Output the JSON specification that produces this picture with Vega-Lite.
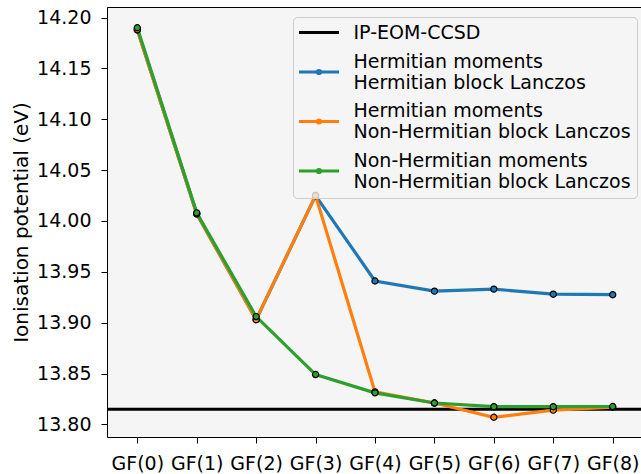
{
  "$schema": "https://vega.github.io/schema/vega-lite/v6.json",
  "autosize": {"type": "none"},
  "padding": {"left": 107, "top": 7, "right": 0, "bottom": 37},
  "width": 536,
  "height": 430,
  "background": "white",
  "config": {
    "font": "DejaVu Sans",
    "view": {"stroke": "black", "strokeWidth": 1, "fill": "#f5f5f5"},
    "axis": {
      "grid": false,
      "domain": false,
      "tickColor": "black",
      "tickSize": 6,
      "tickWidth": 1,
      "labelColor": "black",
      "labelFont": "DejaVu Sans",
      "labelFontSize": 19,
      "titleFont": "DejaVu Sans",
      "titleFontSize": 20,
      "titleFontWeight": "normal",
      "titleColor": "black"
    }
  },
  "datasets": {
    "ip": [
      {"x": 0, "series": "Hermitian moments|Hermitian block Lanczos", "ip": 14.188},
      {"x": 1, "series": "Hermitian moments|Hermitian block Lanczos", "ip": 14.007},
      {"x": 2, "series": "Hermitian moments|Hermitian block Lanczos", "ip": 13.903},
      {"x": 3, "series": "Hermitian moments|Hermitian block Lanczos", "ip": 14.025},
      {"x": 4, "series": "Hermitian moments|Hermitian block Lanczos", "ip": 13.941},
      {"x": 5, "series": "Hermitian moments|Hermitian block Lanczos", "ip": 13.931},
      {"x": 6, "series": "Hermitian moments|Hermitian block Lanczos", "ip": 13.933},
      {"x": 7, "series": "Hermitian moments|Hermitian block Lanczos", "ip": 13.928},
      {"x": 8, "series": "Hermitian moments|Hermitian block Lanczos", "ip": 13.9275},
      {"x": 0, "series": "Hermitian moments|Non-Hermitian block Lanczos", "ip": 14.188},
      {"x": 1, "series": "Hermitian moments|Non-Hermitian block Lanczos", "ip": 14.007},
      {"x": 2, "series": "Hermitian moments|Non-Hermitian block Lanczos", "ip": 13.903},
      {"x": 3, "series": "Hermitian moments|Non-Hermitian block Lanczos", "ip": 14.025},
      {"x": 4, "series": "Hermitian moments|Non-Hermitian block Lanczos", "ip": 13.832},
      {"x": 5, "series": "Hermitian moments|Non-Hermitian block Lanczos", "ip": 13.821},
      {"x": 6, "series": "Hermitian moments|Non-Hermitian block Lanczos", "ip": 13.807},
      {"x": 7, "series": "Hermitian moments|Non-Hermitian block Lanczos", "ip": 13.814},
      {"x": 8, "series": "Hermitian moments|Non-Hermitian block Lanczos", "ip": 13.817},
      {"x": 0, "series": "Non-Hermitian moments|Non-Hermitian block Lanczos", "ip": 14.190},
      {"x": 1, "series": "Non-Hermitian moments|Non-Hermitian block Lanczos", "ip": 14.008},
      {"x": 2, "series": "Non-Hermitian moments|Non-Hermitian block Lanczos", "ip": 13.906},
      {"x": 3, "series": "Non-Hermitian moments|Non-Hermitian block Lanczos", "ip": 13.849},
      {"x": 4, "series": "Non-Hermitian moments|Non-Hermitian block Lanczos", "ip": 13.831},
      {"x": 5, "series": "Non-Hermitian moments|Non-Hermitian block Lanczos", "ip": 13.821},
      {"x": 6, "series": "Non-Hermitian moments|Non-Hermitian block Lanczos", "ip": 13.8174},
      {"x": 7, "series": "Non-Hermitian moments|Non-Hermitian block Lanczos", "ip": 13.8174},
      {"x": 8, "series": "Non-Hermitian moments|Non-Hermitian block Lanczos", "ip": 13.8176}
    ],
    "ref": [{"method": "IP-EOM-CCSD", "ip": 13.815}]
  },
  "layer": [
    {
      "data": {"name": "ref"},
      "mark": {"type": "rule", "strokeWidth": 3},
      "encoding": {
        "y": {"field": "ip", "type": "quantitative"},
        "color": {"field": "method", "type": "nominal"}
      }
    },
    {
      "data": {"name": "ip"},
      "mark": {"type": "line", "strokeWidth": 3.2},
      "encoding": {
        "x": {
          "field": "x", "type": "quantitative",
          "scale": {"domain": [-0.51, 8.51], "nice": false, "zero": false},
          "axis": {"values": [0, 1, 2, 3, 4, 5, 6, 7, 8], "labelExpr": "'GF(' + datum.value + ')'", "title": null, "labelPadding": 11, "labelFlush": false}
        },
        "y": {
          "field": "ip", "type": "quantitative",
          "scale": {"domain": [13.7876, 14.2104], "nice": false, "zero": false},
          "axis": {"values": [13.8, 13.85, 13.9, 13.95, 14.0, 14.05, 14.1, 14.15, 14.2], "format": ".2f", "title": "Ionisation potential (eV)", "labelPadding": 10, "titleAngle": -90, "titleX": -80, "titleY": 215, "titleAlign": "center", "titleBaseline": "alphabetic"}
        },
        "color": {
          "field": "series", "type": "nominal",
          "scale": {
            "domain": ["IP-EOM-CCSD", "Hermitian moments|Hermitian block Lanczos", "Hermitian moments|Non-Hermitian block Lanczos", "Non-Hermitian moments|Non-Hermitian block Lanczos"],
            "range": ["black", "#1f77b4", "#ff7f0e", "#2ca02c"]
          },
          "legend": {
            "orient": "none", "legendX": 186, "legendY": 10, "title": null,
            "symbolType": "M-2.5,0H2.5", "symbolSize": 256, "symbolStrokeWidth": 3, "symbolOffset": 10.5,
            "labelExpr": "split(datum.label, '|')",
            "labelFontSize": 19, "labelFont": "DejaVu Sans", "labelColor": "black", "labelOffset": 25, "labelLimit": 0,
            "padding": 6, "rowPadding": 9.5,
            "fillColor": "rgba(245,245,245,0.8)", "strokeColor": "#cccccc", "cornerRadius": 4,
            "zindex": 1,
            "encoding": {"labels": {"dy": {"condition": {"test": "indexof(datum.value, '|') >= 0", "value": -10.5}, "value": 0}}}
          }
        }
      }
    },
    {
      "data": {"name": "ip"},
      "mark": {"type": "point", "filled": true, "size": 38, "stroke": "black", "strokeWidth": 1.2, "opacity": 1},
      "encoding": {
        "x": {"field": "x", "type": "quantitative"},
        "y": {"field": "ip", "type": "quantitative"},
        "fill": {
          "field": "series", "type": "nominal",
          "scale": {
            "domain": ["IP-EOM-CCSD ", "Hermitian moments|Hermitian block Lanczos", "Hermitian moments|Non-Hermitian block Lanczos", "Non-Hermitian moments|Non-Hermitian block Lanczos"],
            "range": ["transparent", "#1f77b4", "#ff7f0e", "#2ca02c"]
          },
          "legend": {
            "orient": "none", "legendX": 186, "legendY": 10, "title": null,
            "symbolSize": 38, "symbolStrokeColor": "black", "symbolStrokeWidth": 1.2, "symbolOffset": 10.5,
            "labelExpr": "split(datum.label, '|')",
            "labelFontSize": 19, "labelFont": "DejaVu Sans", "labelOpacity": 0, "labelOffset": 25, "labelLimit": 0,
            "padding": 6, "rowPadding": 9.5,
            "zindex": 2,
            "encoding": {"labels": {"dy": {"condition": {"test": "indexof(datum.value, '|') >= 0", "value": -10.5}, "value": 0}}}
          }
        },
        "shape": {
          "field": "series", "type": "nominal",
          "scale": {
            "domain": ["IP-EOM-CCSD ", "Hermitian moments|Hermitian block Lanczos", "Hermitian moments|Non-Hermitian block Lanczos", "Non-Hermitian moments|Non-Hermitian block Lanczos"],
            "range": ["M0,0", "circle", "circle", "circle"]
          },
          "legend": {
            "orient": "none", "legendX": 186, "legendY": 10, "title": null,
            "symbolSize": 38, "symbolStrokeColor": "black", "symbolStrokeWidth": 1.2, "symbolOffset": 10.5,
            "labelExpr": "split(datum.label, '|')",
            "labelFontSize": 19, "labelFont": "DejaVu Sans", "labelOpacity": 0, "labelOffset": 25, "labelLimit": 0,
            "padding": 6, "rowPadding": 9.5,
            "zindex": 2,
            "encoding": {"labels": {"dy": {"condition": {"test": "indexof(datum.value, '|') >= 0", "value": -10.5}, "value": 0}}}
          }
        }
      }
    }
  ]
}
